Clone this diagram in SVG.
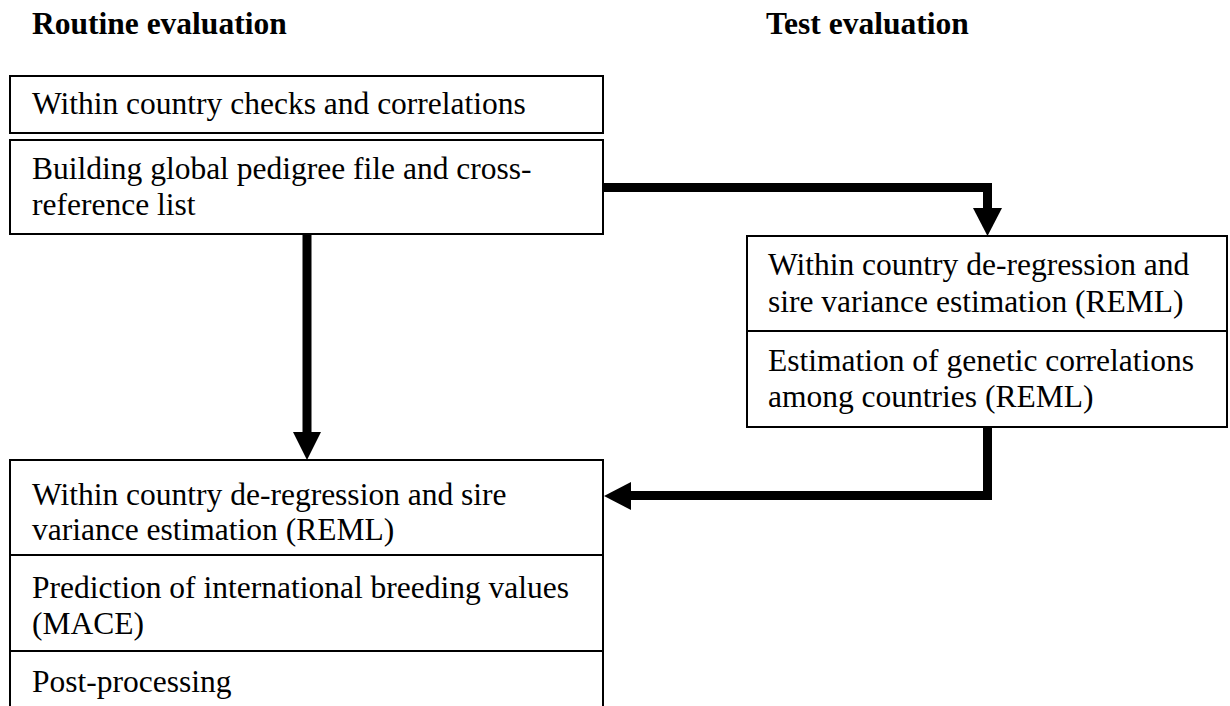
<svg xmlns="http://www.w3.org/2000/svg" width="1230" height="706" viewBox="0 0 1230 706">
<style>
.t{font-family:"Liberation Serif","Times New Roman",serif;font-size:31.5px;fill:#000}
.h{font-family:"Liberation Serif","Times New Roman",serif;font-size:31.5px;font-weight:bold;fill:#000}
.box{fill:#fff;stroke:#000;stroke-width:2}
.div{stroke:#000;stroke-width:2}
.conn{fill:none;stroke:#000;stroke-width:9;stroke-linejoin:miter}
.head{fill:#000}
</style>
<rect width="1230" height="706" fill="#fff"/>
<text class="h" x="32" y="34">Routine evaluation</text>
<text class="h" x="766" y="34">Test evaluation</text>
<g id="checks">
<rect class="box" x="10" y="76" width="593" height="57"/>
<text class="t" x="32" y="114">Within country checks and correlations</text>
</g>
<g id="pedigree">
<rect class="box" x="10" y="140" width="593" height="94"/>
<text class="t" x="32" y="179">Building global pedigree file and cross-</text>
<text class="t" x="32" y="215">reference list</text>
</g>
<g id="test-box">
<rect class="box" x="747" y="236" width="480" height="191"/>
<line class="div" x1="747" y1="331" x2="1227" y2="331"/>
<g id="test-deregression">
<text class="t" x="768" y="275">Within country de-regression and</text>
<text class="t" x="768" y="312">sire variance estimation (REML)</text>
</g>
<g id="test-correlations">
<text class="t" x="768" y="371">Estimation of genetic correlations</text>
<text class="t" x="768" y="407">among countries (REML)</text>
</g>
</g>
<g id="routine-box">
<rect class="box" x="10" y="460" width="593" height="270"/>
<line class="div" x1="10" y1="555" x2="603" y2="555"/>
<line class="div" x1="10" y1="651" x2="603" y2="651"/>
<g id="routine-deregression">
<text class="t" x="32" y="505">Within country de-regression and sire</text>
<text class="t" x="32" y="540">variance estimation (REML)</text>
</g>
<g id="mace">
<text class="t" x="32" y="598">Prediction of international breeding values</text>
<text class="t" x="32" y="634">(MACE)</text>
</g>
<g id="post">
<text class="t" x="32" y="692">Post-processing</text>
</g>
</g>
<g id="connectors">
<path class="conn" d="M603 187.5 H987.5 V209"/>
<polygon class="head" points="973,208 1002,208 987.5,236"/>
<path class="conn" d="M307 234 V433"/>
<polygon class="head" points="293,432 321,432 307,460"/>
<path class="conn" d="M987.5 427 V495.5 H630"/>
<polygon class="head" points="631,482 631,510 604,496"/>
</g>
</svg>
